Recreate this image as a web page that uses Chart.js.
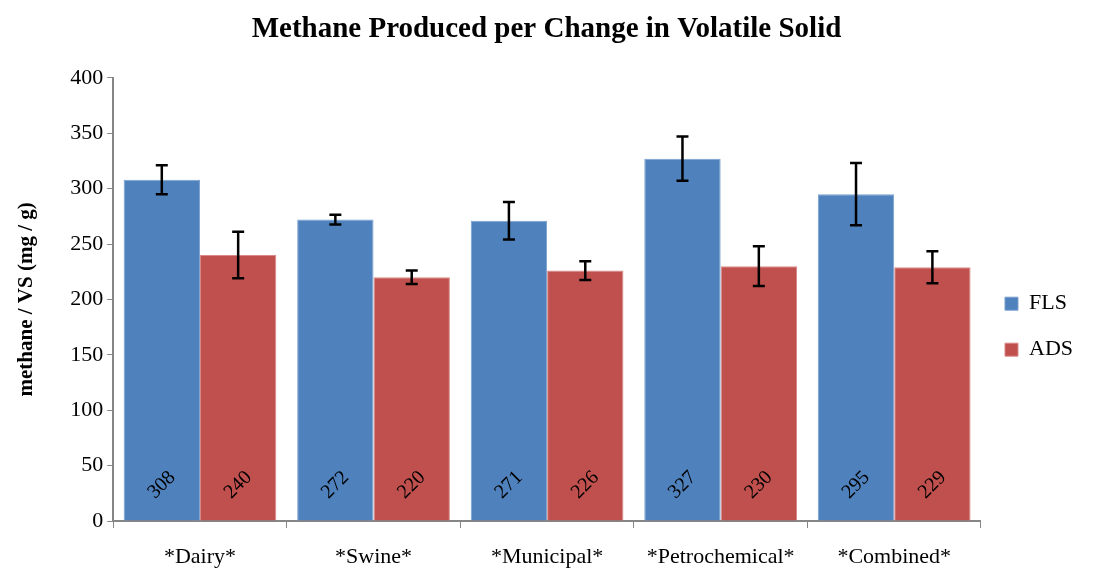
<!DOCTYPE html>
<html>
<head>
<meta charset="utf-8">
<script src="https://cdn.jsdelivr.net/npm/chart.js@4/dist/chart.umd.min.js"></script>
<style>
  body { margin: 0; background: #fff; }
  #wrap { width: 1093px; height: 571px; }
</style>
</head>
<body>
<div id="wrap"><canvas id="chart" width="1093" height="571"></canvas></div>
<script>
const categories = ['*Dairy*', '*Swine*', '*Municipal*', '*Petrochemical*', '*Combined*'];
const flsValues = [308, 272, 271, 327, 295];
const adsValues = [240, 220, 226, 230, 229];
const flsErrors = [13, 4.5, 17, 20, 28];
const adsErrors = [21, 6, 8.5, 18, 14.5];
const yTicks = [0, 50, 100, 150, 200, 250, 300, 350, 400];

const serif = '"Liberation Serif", "Times New Roman", serif';
const axisGray = '#868686';

// error bars drawn on top of each bar
const errorBars = {
    id: 'errorBars',
    afterDatasetsDraw(chart) {
        const ctx = chart.ctx;
        const y = chart.scales.y;
        ctx.save();
        ctx.strokeStyle = '#000';
        ctx.lineWidth = 2.5;
        chart.data.datasets.forEach(function(ds, i) {
            const meta = chart.getDatasetMeta(i);
            meta.data.forEach(function(bar, j) {
                const v = ds.data[j];
                const e = ds.errors[j];
                const top = y.getPixelForValue(v + e);
                const bot = y.getPixelForValue(v - e);
                const x = bar.x;
                ctx.beginPath();
                ctx.moveTo(x, top); ctx.lineTo(x, bot);
                ctx.moveTo(x - 6, top); ctx.lineTo(x + 6, top);
                ctx.moveTo(x - 6, bot); ctx.lineTo(x + 6, bot);
                ctx.stroke();
            });
        });
        ctx.restore();
    }
};

// rotated value labels near the base of the bars
const valueLabels = {
    id: 'valueLabels',
    afterDatasetsDraw(chart) {
        const ctx = chart.ctx;
        const base = chart.scales.y.getPixelForValue(0);
        ctx.save();
        ctx.fillStyle = '#000';
        ctx.font = '20px ' + serif;
        ctx.textAlign = 'center';
        ctx.textBaseline = 'middle';
        chart.data.datasets.forEach(function(ds, i) {
            chart.getDatasetMeta(i).data.forEach(function(bar, j) {
                ctx.save();
                ctx.translate(bar.x, base - 36);
                ctx.rotate(-Math.PI / 4);
                ctx.fillText(String(ds.data[j]), 0, 0);
                ctx.restore();
            });
        });
        ctx.restore();
    }
};

new Chart(document.getElementById('chart'), {
    type: 'bar',
    data: {
        labels: categories,
        datasets: [
            {
                label: 'FLS',
                data: flsValues,
                errors: flsErrors,
                backgroundColor: '#4f81bd',
                borderColor: '#7aa0d0',
                borderWidth: 1
            },
            {
                label: 'ADS',
                data: adsValues,
                errors: adsErrors,
                backgroundColor: '#c0504d',
                borderColor: '#d98a88',
                borderWidth: 1
            }
        ]
    },
    options: {
        responsive: false,
        animation: false,
        layout: { padding: { left: 10, right: 10, top: 8, bottom: 0 } },
        datasets: {
            bar: { categoryPercentage: 0.88, barPercentage: 1.0 }
        },
        plugins: {
            title: {
                display: true,
                text: 'Methane Produced per Change in Volatile Solid',
                color: '#000',
                font: { family: serif, size: 29, weight: 'bold' },
                padding: { top: 4, bottom: 31 }
            },
            legend: {
                position: 'right',
                title: {
                    display: true,
                    text: ' ',
                    font: { size: 62 },
                    padding: 0
                },
                labels: {
                    color: '#000',
                    font: { family: serif, size: 22 },
                    boxWidth: 13,
                    boxHeight: 13,
                    padding: 24
                }
            },
            tooltip: { enabled: false }
        },
        scales: {
            x: {
                afterFit: function(scale) { scale.height = 50; },
                grid: {
                    display: true,
                    drawOnChartArea: false,
                    offset: true,
                    color: axisGray,
                    tickLength: 7
                },
                border: { color: axisGray, width: 2 },
                ticks: {
                    color: '#000',
                    font: { family: serif, size: 22 },
                    padding: 16,
                    maxRotation: 0
                }
            },
            y: {
                min: 0,
                max: 400,
                afterBuildTicks: function(axis) {
                    axis.ticks = yTicks.map(function(v) { return { value: v }; });
                },
                grid: {
                    display: true,
                    drawOnChartArea: false,
                    color: axisGray,
                    tickLength: 6
                },
                border: { color: axisGray, width: 2 },
                ticks: {
                    color: '#000',
                    font: { family: serif, size: 22 },
                    padding: 4
                },
                title: {
                    display: true,
                    text: 'methane / VS (mg / g)',
                    color: '#000',
                    font: { family: serif, size: 21, weight: 'bold' },
                    padding: { bottom: 27 }
                }
            }
        }
    },
    plugins: [errorBars, valueLabels]
});
</script>
</body>
</html>
